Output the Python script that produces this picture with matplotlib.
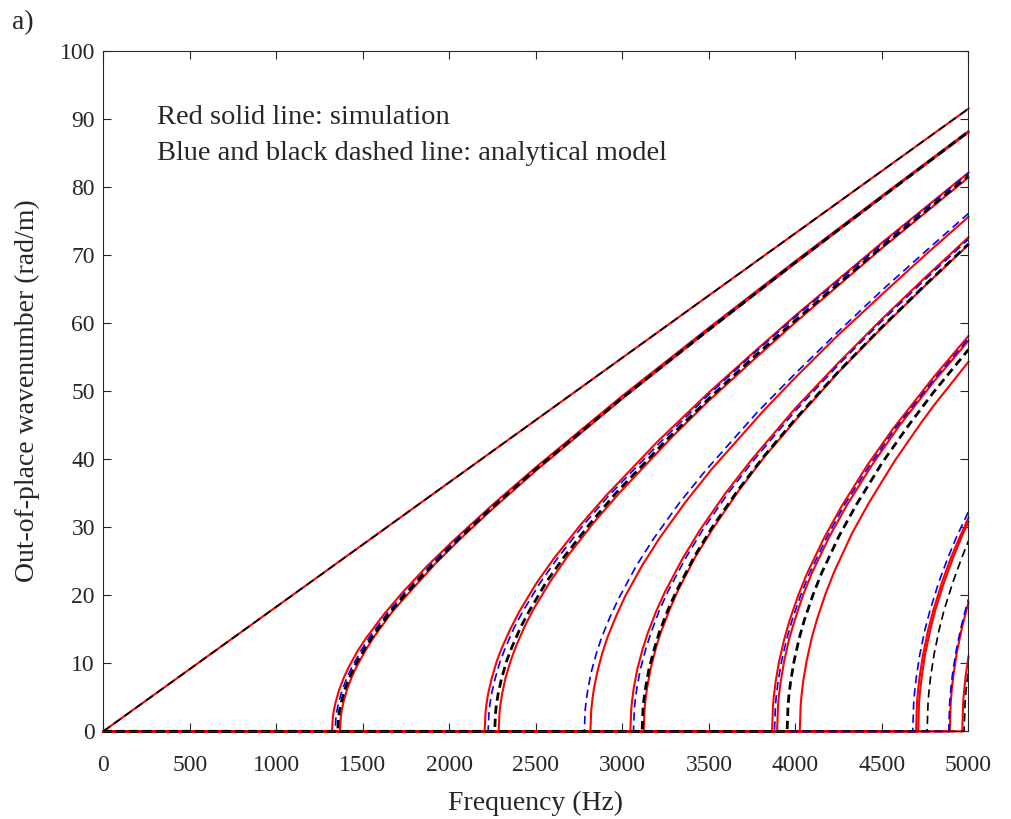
import matplotlib
matplotlib.use("Agg")
import matplotlib.pyplot as plt

plt.rcParams['font.family'] = ['Liberation Serif', 'DejaVu Serif']
plt.rcParams['lines.scale_dashes'] = False

# light line k = w/c
f_line = [0, 5000]
k_line = [0, 91.5]

# mode group A (cut-on ~1320 Hz)
f_A_red1 = [0, 1322, 1327, 1332, 1342, 1362, 1392, 1422, 1472, 1522, 1622, 1722, 1872, 2022, 2250, 2500, 3000, 3500, 4000, 4500, 5000]
k_A_red1 = [0, 0, 2.1, 3.0, 4.2, 6.0, 8.0, 9.6, 11.9, 13.8, 17.2, 20.2, 24.3, 28.0, 33.3, 38.8, 49.3, 59.3, 69.1, 78.7, 88.2]
f_A_blue = [0, 1340, 1345, 1350, 1360, 1380, 1410, 1440, 1490, 1540, 1640, 1740, 1890, 2040, 2250, 2500, 3000, 3500, 4000, 4500, 5000]
k_A_blue = [0, 0, 2.1, 3.0, 4.2, 6.0, 8.0, 9.6, 11.9, 13.9, 17.3, 20.3, 24.4, 28.2, 33.1, 38.6, 49.1, 59.2, 69.0, 78.6, 88.2]
f_A_black = [0, 1355, 1360, 1365, 1375, 1395, 1425, 1455, 1505, 1555, 1655, 1755, 1905, 2055, 2250, 2500, 3000, 3500, 4000, 4500, 5000]
k_A_black = [0, 0, 2.1, 3.0, 4.2, 6.1, 8.0, 9.7, 11.9, 13.9, 17.4, 20.4, 24.5, 28.3, 32.9, 38.5, 49.0, 59.0, 68.9, 78.5, 88.1]
f_A_red2 = [0, 1368, 1373, 1378, 1388, 1408, 1438, 1468, 1518, 1568, 1668, 1768, 1918, 2068, 2250, 2500, 3000, 3500, 4000, 4500, 5000]
k_A_red2 = [0, 0, 2.1, 3.0, 4.3, 6.1, 8.1, 9.7, 12.0, 14.0, 17.5, 20.4, 24.6, 28.4, 32.7, 38.3, 48.9, 59.0, 68.8, 78.5, 88.0]

# group B (~2200 Hz)
f_B_red1 = [0, 2204, 2209, 2214, 2224, 2244, 2274, 2304, 2354, 2404, 2504, 2604, 2754, 2904, 3204, 3500, 3750, 4000, 4500, 5000]
k_B_red1 = [0, 0, 2.7, 3.9, 5.5, 7.7, 10.3, 12.3, 15.1, 17.6, 21.8, 25.4, 30.2, 34.6, 42.6, 49.8, 55.5, 61.1, 71.8, 82.1]
f_B_blue = [0, 2224, 2229, 2234, 2244, 2264, 2294, 2324, 2374, 2424, 2524, 2624, 2774, 2924, 3224, 3500, 3750, 4000, 4500, 5000]
k_B_blue = [0, 0, 2.7, 3.9, 5.5, 7.7, 10.3, 12.3, 15.2, 17.6, 21.8, 25.4, 30.3, 34.7, 42.6, 49.5, 55.3, 60.9, 71.6, 82.0]
f_B_black = [0, 2262, 2267, 2272, 2282, 2302, 2332, 2362, 2412, 2462, 2562, 2662, 2812, 2962, 3262, 3500, 3750, 4000, 4500, 5000]
k_B_black = [0, 0, 2.7, 3.9, 5.5, 7.8, 10.4, 12.4, 15.3, 17.7, 22.0, 25.6, 30.5, 35.0, 43.0, 48.9, 54.8, 60.4, 71.2, 81.6]
f_B_red2 = [0, 2285, 2290, 2295, 2305, 2325, 2355, 2385, 2435, 2485, 2585, 2685, 2835, 2985, 3285, 3500, 3750, 4000, 4500, 5000]
k_B_red2 = [0, 0, 2.8, 3.9, 5.5, 7.9, 10.4, 12.5, 15.4, 17.9, 22.1, 25.8, 30.7, 35.1, 43.2, 48.6, 54.4, 60.1, 71.0, 81.4]

# group C (~2800 Hz)
f_C_blue = [0, 2780, 2785, 2790, 2800, 2820, 2850, 2880, 2930, 2980, 3080, 3180, 3330, 3480, 3780, 4000, 4250, 4500, 4750, 5000]
k_C_blue = [0, 0, 3.1, 4.3, 6.1, 8.7, 11.5, 13.8, 16.9, 19.6, 24.3, 28.3, 33.6, 38.3, 46.9, 52.6, 58.8, 64.8, 70.5, 76.1]
f_C_red = [0, 2815, 2820, 2825, 2835, 2855, 2885, 2915, 2965, 3015, 3115, 3215, 3365, 3515, 3815, 4000, 4250, 4500, 4750, 5000]
k_C_red = [0, 0, 3.1, 4.3, 6.2, 8.7, 11.6, 13.9, 17.0, 19.8, 24.4, 28.4, 33.7, 38.5, 47.1, 52.0, 58.3, 64.2, 70.0, 75.6]

# group D (~3050 Hz)
f_D_red1 = [0, 3046, 3051, 3056, 3066, 3086, 3116, 3146, 3196, 3246, 3346, 3446, 3596, 3746, 4000, 4250, 4500, 4750, 5000]
k_D_red1 = [0, 0, 3.2, 4.5, 6.4, 9.1, 12.0, 14.4, 17.7, 20.5, 25.3, 29.5, 35.0, 39.9, 47.5, 54.2, 60.6, 66.7, 72.6]
f_D_blue = [0, 3064, 3069, 3074, 3084, 3104, 3134, 3164, 3214, 3264, 3364, 3464, 3614, 3764, 4000, 4250, 4500, 4750, 5000]
k_D_blue = [0, 0, 3.2, 4.5, 6.4, 9.1, 12.0, 14.4, 17.8, 20.6, 25.4, 29.6, 35.1, 40.0, 47.1, 53.9, 60.3, 66.4, 72.3]
f_D_black = [0, 3114, 3119, 3124, 3134, 3154, 3184, 3214, 3264, 3314, 3414, 3514, 3664, 3814, 4000, 4250, 4500, 4750, 5000]
k_D_black = [0, 0, 3.2, 4.6, 6.4, 9.2, 12.1, 14.6, 17.9, 20.7, 25.6, 29.8, 35.3, 40.3, 45.9, 52.9, 59.4, 65.6, 71.6]
f_D_red2 = [0, 3123, 3128, 3133, 3143, 3163, 3193, 3223, 3273, 3323, 3423, 3523, 3673, 3823, 4000, 4250, 4500, 4750, 5000]
k_D_red2 = [0, 0, 3.2, 4.6, 6.4, 9.2, 12.2, 14.6, 17.9, 20.8, 25.7, 29.8, 35.4, 40.4, 45.7, 52.8, 59.3, 65.5, 71.5]

# group E (~3870 Hz)
f_E_red1 = [0, 3865, 3870, 3875, 3885, 3905, 3935, 3965, 4015, 4065, 4165, 4265, 4415, 4565, 4800, 5000]
k_E_red1 = [0, 0, 3.6, 5.1, 7.2, 10.2, 13.5, 16.2, 19.9, 23.1, 28.4, 33.0, 39.1, 44.5, 52.1, 58.1]
f_E_blue = [0, 3879, 3884, 3889, 3899, 3919, 3949, 3979, 4029, 4079, 4179, 4279, 4429, 4579, 4800, 5000]
k_E_blue = [0, 0, 3.6, 5.1, 7.2, 10.2, 13.5, 16.2, 19.9, 23.1, 28.4, 33.1, 39.1, 44.6, 51.7, 57.7]
f_E_red2 = [0, 3894, 3899, 3904, 3914, 3934, 3964, 3994, 4044, 4094, 4194, 4294, 4444, 4594, 4800, 5000]
k_E_red2 = [0, 0, 3.6, 5.1, 7.2, 10.2, 13.6, 16.2, 20.0, 23.2, 28.5, 33.1, 39.2, 44.7, 51.4, 57.4]
f_E_black = [0, 3952, 3957, 3962, 3972, 3992, 4022, 4052, 4102, 4152, 4252, 4352, 4502, 4652, 4800, 5000]
k_E_black = [0, 0, 3.6, 5.2, 7.3, 10.3, 13.7, 16.4, 20.1, 23.3, 28.7, 33.3, 39.5, 44.9, 49.9, 56.1]
f_E_red3 = [0, 4025, 4030, 4035, 4045, 4065, 4095, 4125, 4175, 4225, 4325, 4425, 4575, 4725, 4800, 5000]
k_E_red3 = [0, 0, 3.7, 5.2, 7.4, 10.4, 13.8, 16.5, 20.3, 23.5, 29.0, 33.6, 39.8, 45.3, 47.9, 54.3]

# group F (~4680 Hz)
f_F_blue = [0, 4678, 4683, 4688, 4698, 4718, 4748, 4778, 4828, 4878, 4928, 5000]
k_F_blue = [0, 0, 4.0, 5.6, 7.9, 11.2, 14.9, 17.8, 21.9, 25.3, 28.4, 32.3]
f_F_red1 = [0, 4697, 4702, 4707, 4717, 4737, 4767, 4797, 4847, 4897, 4947, 5000]
k_F_red1 = [0, 0, 4.0, 5.6, 7.9, 11.2, 14.9, 17.8, 21.9, 25.4, 28.4, 31.4]
f_F_red2 = [0, 4709, 4714, 4719, 4729, 4749, 4779, 4809, 4859, 4909, 4959, 5000]
k_F_red2 = [0, 0, 4.0, 5.6, 7.9, 11.3, 14.9, 17.9, 21.9, 25.4, 28.5, 30.8]
f_F_black = [0, 4761, 4766, 4771, 4781, 4801, 4831, 4861, 4911, 4961, 5000]
k_F_black = [0, 0, 4.0, 5.7, 8.0, 11.3, 15.0, 18.0, 22.0, 25.5, 28.0]

# group G (~4890 Hz)
f_G_blue = [0, 4886, 4891, 4896, 4906, 4926, 4956, 4986, 5000]
k_G_blue = [0, 0, 4.0, 5.7, 8.1, 11.5, 15.2, 18.2, 19.4]
f_G_red1 = [0, 4892, 4897, 4902, 4912, 4932, 4962, 4992, 5000]
k_G_red1 = [0, 0, 4.1, 5.7, 8.1, 11.5, 15.2, 18.2, 18.9]
f_G_red2 = [0, 4964, 4969, 4974, 4984, 5000]
k_G_red2 = [0, 0, 4.1, 5.8, 8.2, 11.0]
f_G_black = [0, 4975, 4980, 4985, 5000]
k_G_black = [0, 0, 4.1, 5.8, 9.1]

reds = [(f_line, k_line), (f_A_red1, k_A_red1), (f_A_red2, k_A_red2),
        (f_B_red1, k_B_red1), (f_B_red2, k_B_red2), (f_C_red, k_C_red),
        (f_D_red1, k_D_red1), (f_D_red2, k_D_red2), (f_E_red1, k_E_red1),
        (f_E_red2, k_E_red2), (f_E_red3, k_E_red3), (f_F_red1, k_F_red1),
        (f_F_red2, k_F_red2), (f_G_red1, k_G_red1), (f_G_red2, k_G_red2)]
blues = [(f_A_blue, k_A_blue), (f_B_blue, k_B_blue), (f_C_blue, k_C_blue),
         (f_D_blue, k_D_blue), (f_E_blue, k_E_blue), (f_F_blue, k_F_blue),
         (f_G_blue, k_G_blue)]
blacks_thick = [(f_A_black, k_A_black), (f_B_black, k_B_black),
                (f_D_black, k_D_black), (f_E_black, k_E_black)]
blacks_thin = [(f_line, k_line), (f_F_black, k_F_black), (f_G_black, k_G_black)]

fig = plt.figure(figsize=(10.12, 8.19), dpi=100)
ax = fig.add_axes([0.102, 0.107, 0.855, 0.831])

for f, k in reds:
    ax.plot(f, k, color='#ff0000', lw=1.5, clip_on=False)
for f, k in blues:
    ax.plot(f, k, color='#0000ff', lw=1.2, ls='--', dashes=(6, 3.5), clip_on=False)
for f, k in blacks_thick:
    ax.plot(f, k, color='k', lw=2.0, ls='--', dashes=(6, 3.5), clip_on=False)
for f, k in blacks_thin:
    ax.plot(f, k, color='k', lw=1.2, ls='--', dashes=(6, 3.5), clip_on=False)

ax.set_xlim(0, 5000)
ax.set_ylim(0, 100)
ax.set_xticks(range(0, 5001, 500))
ax.set_yticks(range(0, 101, 10))
ax.tick_params(direction='in', top=True, right=True, length=6, width=0.8,
               labelsize=17, colors='#262626')
ax.tick_params(axis='x', pad=17)
ax.tick_params(axis='y', pad=6)
for s in ax.spines.values():
    s.set_color('#262626')
    s.set_linewidth(0.8)

ax.set_xlabel('Frequency (Hz)', fontsize=20, color='#262626', labelpad=11)
ax.set_ylabel('Out-of-place wavenumber (rad/m)', fontsize=20, color='#262626', labelpad=14)

ax.text(312, 90.15, 'Red solid line: simulation', fontsize=20.5, va='center', color='#262626')
ax.text(312, 84.85, 'Blue and black dashed line: analytical model', fontsize=20.5,
        va='center', color='#262626')
fig.text(0.012, 0.973, 'a)', fontsize=20, va='center', color='#262626')

fig.savefig('out.png', dpi=100)
